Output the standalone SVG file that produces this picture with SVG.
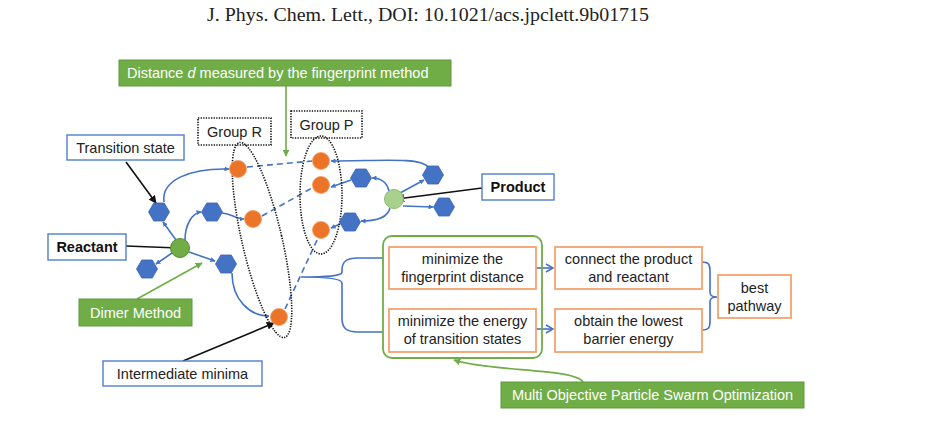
<svg xmlns="http://www.w3.org/2000/svg" width="935" height="427" viewBox="0 0 935 427">
<defs>
<style>
text{font-family:"Liberation Sans",Arial,sans-serif;font-size:14.5px;fill:#222;}
.hdr{font-family:"Liberation Serif","Times New Roman",serif;font-size:18px;fill:#222;}
.w{fill:#fff;}
.b{font-weight:bold;fill:#111;}
.c{text-anchor:middle;}
.lbl{fill:#fff;stroke:#4F7FCB;stroke-width:1.4;}
.gbox{fill:#70AD47;stroke:#5F9B3C;stroke-width:1;}
.obox{fill:#fff;stroke:#F4A36E;stroke-width:1.8;}
.dot{fill:none;stroke:#111;stroke-width:1.6;stroke-dasharray:1.3 1.3;}
.bl{fill:none;stroke:#4472C4;stroke-width:1.6;marker-end:url(#ab);}
.dash{fill:none;stroke:#4472C4;stroke-width:1.6;stroke-dasharray:6 4;}
.br{fill:none;stroke:#4472C4;stroke-width:1.6;}
.bo{fill:none;stroke:#4472C4;stroke-width:1.6;marker-end:url(#ao);}
.k{fill:none;stroke:#111;stroke-width:1.6;marker-end:url(#ak);}
.g{fill:none;stroke:#70AD47;stroke-width:1.6;marker-end:url(#ag);}
.or{fill:#EC7428;stroke:#F29A5C;stroke-width:0.8;}
.hx{fill:#4472C4;stroke:#3A65B2;stroke-width:0.8;}
</style>
<polygon id="hex" points="-10.5,0 -5.25,-9 5.25,-9 10.5,0 5.25,9 -5.25,9"/>
<marker id="ab" viewBox="0 0 10 10" refX="9" refY="5" markerWidth="5" markerHeight="5" orient="auto" markerUnits="userSpaceOnUse"><path d="M0,0 L10,5 L0,10 z" fill="#4472C4"/></marker>
<marker id="ao" viewBox="0 0 10 10" refX="9" refY="5" markerWidth="10" markerHeight="10" orient="auto" markerUnits="userSpaceOnUse"><path d="M2,1 L9,5 L2,9" fill="none" stroke="#4472C4" stroke-width="1.6"/></marker>
<marker id="ak" viewBox="0 0 10 10" refX="9" refY="5" markerWidth="8" markerHeight="8" orient="auto" markerUnits="userSpaceOnUse"><path d="M0,0 L10,5 L0,10 z" fill="#111"/></marker>
<marker id="ag" viewBox="0 0 10 10" refX="9" refY="5" markerWidth="7" markerHeight="7" orient="auto" markerUnits="userSpaceOnUse"><path d="M0,0 L10,5 L0,10 z" fill="#70AD47"/></marker>
</defs>
<rect width="935" height="427" fill="#fff"/>
<text class="hdr" x="207" y="21" textLength="442" lengthAdjust="spacingAndGlyphs">J. Phys. Chem. Lett., DOI: 10.1021/acs.jpclett.9b01715</text>

<g id="connectors">
<path class="bl" d="M164,202 C161,180 190,168 229,169"/>
<path class="bl" d="M176,240 L163,222"/>
<path class="bl" d="M185,240 C185,225 192,213 201,212"/>
<path class="bl" d="M172,253 L156,264"/>
<path class="bl" d="M189,252 L215,261"/>
<path class="bl" d="M222,213 C232,214 236,219 244,219"/>
<path class="bl" d="M232,273 C232,300 250,316 269,316"/>
<path class="dash" d="M247,167 L312,161"/>
<path class="dash" d="M262,216 L312,188"/>
<path class="dash" d="M285,309 L318,238"/>
<path class="bl" d="M428,167 C420,157 380,161 331,161"/>
<path class="bl" d="M389,191 C387,183 382,178 372,178"/>
<path class="bl" d="M351,180 L331,187"/>
<path class="bl" d="M400,193 L424,180"/>
<path class="bl" d="M403,206 L433,207"/>
<path class="bl" d="M390,208 C388,217 378,221 361,221"/>
<path class="bl" d="M340,224 L331,228"/>
<path class="br" d="M383,258 L358,258 C346,258 342,262 342,270 L342,272 C342,276 330,277 301,277 M383,332 L358,332 C346,332 342,328 342,318 L342,283 C342,279 330,277 301,277"/>
<path class="bo" d="M536,268 L553,268"/>
<path class="bo" d="M536,329 L553,329"/>
<path class="br" d="M702,262 C708,262 710,264 710,270 L710,292 C710,296 712,297 717,297 M702,330 C708,330 710,328 710,322 L710,302 C710,298 712,297 717,297"/>
<path class="g" d="M286,86 L286,156"/>
<path class="g" d="M137,299 L202,263"/>
<path class="g" d="M583,382 C575,368 490,372 454,360"/>
<path class="k" d="M126,162 L156,203"/>
<path class="k" d="M126,246 L178,248"/>
<path class="k" d="M183,361 L274,323"/>
<path class="k" d="M482,188 L397,199"/>
</g>

<g id="group-r"><ellipse class="dot" cx="262" cy="240" rx="20" ry="100" transform="rotate(-13 262 240)"/><rect class="dot" x="198" y="118" width="73" height="27"/><text class="c" x="234.5" y="137">Group R</text></g>
<g id="group-p"><ellipse class="dot" cx="321" cy="195" rx="21" ry="59"/><rect class="dot" x="291" y="111" width="71" height="27"/><text class="c" x="326.5" y="130">Group P</text></g>

<g id="hex-ts"><use href="#hex" class="hx" x="159" y="212"/></g>
<g id="hex-2"><use href="#hex" class="hx" x="212" y="212"/></g>
<g id="hex-7"><use href="#hex" class="hx" x="147" y="269"/></g>
<g id="hex-8"><use href="#hex" class="hx" x="226" y="264"/></g>
<g id="hex-3"><use href="#hex" class="hx" x="361" y="178"/></g>
<g id="hex-4"><use href="#hex" class="hx" x="433" y="175"/></g>
<g id="hex-5"><use href="#hex" class="hx" x="350" y="222"/></g>
<g id="hex-6"><use href="#hex" class="hx" x="444" y="207"/></g>

<g id="min-r1"><circle class="or" cx="238" cy="169" r="8.5"/></g>
<g id="min-r2"><circle class="or" cx="253" cy="219" r="8.5"/></g>
<g id="min-p1"><circle class="or" cx="321" cy="161" r="8.5"/></g>
<g id="min-p2"><circle class="or" cx="321" cy="185" r="8.5"/></g>
<g id="min-p3"><circle class="or" cx="321" cy="230" r="8.5"/></g>
<g id="min-i"><circle class="or" cx="279" cy="317" r="8.5"/></g>

<g id="reactant-pt"><circle cx="180" cy="248" r="9.5" fill="#70AD47" stroke="#548D35" stroke-width="1"/></g>
<g id="product-pt"><circle cx="394" cy="199" r="9.5" fill="#A9D18E" stroke="#8CBF6C" stroke-width="1"/></g>

<g id="distance"><rect class="gbox" x="119" y="60" width="332" height="26"/><text class="w" x="127" y="78">Distance <tspan font-style="italic">d</tspan> measured by the fingerprint method</text></g>
<g id="transition"><rect class="lbl" x="67" y="135" width="117" height="25"/><text class="c" x="125.5" y="152.5">Transition state</text></g>
<g id="reactant"><rect class="lbl" x="48" y="234" width="78" height="26"/><text class="c b" x="87" y="252">Reactant</text></g>
<g id="product"><rect class="lbl" x="482" y="174" width="72" height="26"/><text class="c b" x="518" y="192">Product</text></g>
<g id="dimer"><rect class="gbox" x="79" y="299" width="113" height="27"/><text class="c w" x="135.5" y="318">Dimer Method</text></g>
<g id="intermediate"><rect class="lbl" x="103" y="361" width="159" height="25"/><text class="c" x="182.5" y="378.5">Intermediate minima</text></g>

<g id="mopso-group"><rect x="383" y="236" width="159" height="122" rx="9" fill="none" stroke="#70AD47" stroke-width="1.8"/></g>
<g id="obj-fp"><rect class="obox" x="389" y="247" width="147" height="42"/><text class="c" x="462.5" y="264">minimize the</text><text class="c" x="462.5" y="282">fingerprint distance</text></g>
<g id="obj-en"><rect class="obox" x="389" y="309" width="147" height="43"/><text class="c" x="462.5" y="326">minimize the energy</text><text class="c" x="462.5" y="344">of transition states</text></g>
<g id="res-conn"><rect class="obox" x="555" y="247" width="147" height="42"/><text class="c" x="628.5" y="264">connect the product</text><text class="c" x="628.5" y="282">and reactant</text></g>
<g id="res-low"><rect class="obox" x="555" y="309" width="147" height="43"/><text class="c" x="628.5" y="326">obtain the lowest</text><text class="c" x="628.5" y="344">barrier energy</text></g>
<g id="best"><rect class="obox" x="718" y="275" width="73" height="43"/><text class="c" x="754.5" y="293">best</text><text class="c" x="754.5" y="311">pathway</text></g>
<g id="mopso"><rect class="gbox" x="501" y="382" width="303" height="26"/><text class="c w" x="652.5" y="400">Multi Objective Particle Swarm Optimization</text></g>
</svg>
